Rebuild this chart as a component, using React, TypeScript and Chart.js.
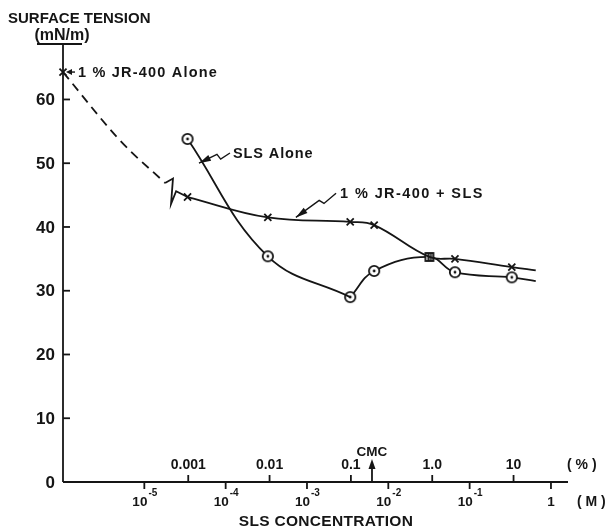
import React, { useEffect, useRef } from "react";
import { Chart, registerables } from "chart.js";

Chart.register(...registerables);

const INK = "#151515";
const FONT = "'Liberation Sans', 'DejaVu Sans', sans-serif";

// ---- Data (concentration in mol/L, surface tension in mN/m) ----
const jrAloneConc = [1e-6, 5.0e-6, 1.8e-5];
const jrAloneTension = [64.3, 53.6, 46.9];
const breakConc = [1.8e-5, 2.25e-5, 2.13e-5, 2.46e-5, 3.4e-5];
const breakTension = [46.9, 47.6, 43.6, 45.6, 44.7];
const slsConc = [3.4e-5, 3.3e-4, 3.4e-3, 6.7e-3, 3.2e-2, 6.6e-2, 0.33, 0.65];
const jrSlsTension = [44.7, 41.5, 40.8, 40.3, 35.3, 35.0, 33.7, 33.2];
const slsAloneTension = [53.8, 35.4, 29.0, 33.1, 35.3, 32.9, 32.1, 31.5];

// ---- Axis ticks ----
const yTickValues = [0, 10, 20, 30, 40, 50, 60];
const molarExponents = [-5, -4, -3, -2, -1, 0];
const percentLabels = ["0.001", "0.01", "0.1", "1.0", "10"];
const percentValues = [0.001, 0.01, 0.1, 1, 10];
const SLS_MW = 288.4;
const cmcConc = 6.3e-3;
const xMin = 1e-6;
const xMax = 1.62;
const yMin = 0;
const yMax = 68.7;

function seg(ctx: CanvasRenderingContext2D, x1: number, y1: number, x2: number, y2: number) {
  ctx.beginPath();
  ctx.moveTo(x1, y1);
  ctx.lineTo(x2, y2);
  ctx.stroke();
}

function txt(
  ctx: CanvasRenderingContext2D,
  s: string,
  x: number,
  y: number,
  size: number,
  align: CanvasTextAlign = "left",
  spacing = 0
) {
  ctx.font = `bold ${size}px ${FONT}`;
  ctx.textAlign = align;
  ctx.textBaseline = "middle";
  (ctx as any).letterSpacing = spacing + "px";
  ctx.fillText(s, x, y);
  (ctx as any).letterSpacing = "0px";
}

function arrowHead(ctx: CanvasRenderingContext2D, fx: number, fy: number, tx: number, ty: number, len = 9, w = 3.5) {
  const a = Math.atan2(ty - fy, tx - fx);
  const bx = tx - len * Math.cos(a);
  const by = ty - len * Math.sin(a);
  ctx.beginPath();
  ctx.moveTo(tx, ty);
  ctx.lineTo(bx + w * Math.sin(a), by - w * Math.cos(a));
  ctx.lineTo(bx - w * Math.sin(a), by + w * Math.cos(a));
  ctx.closePath();
  ctx.fill();
}

function wiggleArrow(ctx: CanvasRenderingContext2D, sx: number, sy: number, tx: number, ty: number) {
  const dx = tx - sx;
  const dy = ty - sy;
  const p1x = sx + dx * 0.3;
  const p1y = sy + dy * 0.3 + 3;
  const p2x = sx + dx * 0.42;
  const p2y = sy + dy * 0.42 - 3;
  ctx.beginPath();
  ctx.moveTo(sx, sy);
  ctx.lineTo(p1x, p1y);
  ctx.lineTo(p2x, p2y);
  ctx.lineTo(tx, ty);
  ctx.stroke();
  arrowHead(ctx, p2x, p2y, tx, ty, 12, 3.2);
}

function makeCircle(): HTMLCanvasElement {
  const c = document.createElement("canvas");
  c.width = 14;
  c.height = 14;
  const g = c.getContext("2d")!;
  g.fillStyle = "#fff";
  g.beginPath();
  g.arc(7, 7, 5.2, 0, Math.PI * 2);
  g.fill();
  g.lineWidth = 1.8;
  g.strokeStyle = INK;
  g.stroke();
  g.fillStyle = INK;
  g.beginPath();
  g.arc(7, 7, 1.4, 0, Math.PI * 2);
  g.fill();
  return c;
}

function makeSquare(): HTMLCanvasElement {
  const c = document.createElement("canvas");
  c.width = 12;
  c.height = 12;
  const g = c.getContext("2d")!;
  g.fillStyle = "#fff";
  g.fillRect(2, 2, 8, 8);
  g.lineWidth = 1.8;
  g.strokeStyle = INK;
  g.strokeRect(2, 2, 8, 8);
  g.beginPath();
  g.moveTo(5, 2);
  g.lineTo(5, 10);
  g.moveTo(7.5, 2);
  g.lineTo(7.5, 10);
  g.stroke();
  return c;
}

const paperPlugin = {
  id: "paperAxes",
  afterDatasetsDraw(chart: any) {
    const { ctx, chartArea } = chart;
    const xs = chart.scales.x;
    const ys = chart.scales.y;
    const L = chartArea.left;
    const R = chartArea.right;
    const B = ys.getPixelForValue(0);
    const T = ys.getPixelForValue(yMax);
    const px = (xv: number, yv: number) => ({ x: xs.getPixelForValue(xv), y: ys.getPixelForValue(yv) });

    ctx.save();
    ctx.strokeStyle = INK;
    ctx.fillStyle = INK;
    ctx.lineWidth = 1.8;

    // Y axis
    seg(ctx, L, T, L, B);
    seg(ctx, L - 26, T, L + 19, T);
    yTickValues.forEach((v) => {
      const y = ys.getPixelForValue(v);
      if (v > 0) seg(ctx, L, y, L + 7, y);
      txt(ctx, String(v), L - 8, y + 1, 17, "right");
    });
    txt(ctx, "SURFACE TENSION", L - 55, T - 25, 15);
    txt(ctx, "(mN/m)", L - 1, T - 8, 16, "center");

    // X axis
    seg(ctx, L, B, R, B);
    molarExponents.forEach((e) => {
      const x = xs.getPixelForValue(Math.pow(10, e));
      seg(ctx, x, B, x, B + 7);
      if (e === 0) {
        txt(ctx, "1", x, B + 20, 13.5, "center");
      } else {
        ctx.font = `bold 13.5px ${FONT}`;
        const w1 = ctx.measureText("10").width;
        const sup = "-" + Math.abs(e);
        ctx.font = `bold 10px ${FONT}`;
        const w2 = ctx.measureText(sup).width;
        const x0 = x - (w1 + w2) / 2;
        txt(ctx, "10", x0, B + 20, 13.5, "left");
        txt(ctx, sup, x0 + w1 + 1, B + 11, 10, "left");
      }
    });
    txt(ctx, "( M )", R + 9, B + 20, 14, "left");

    percentValues.forEach((p, i) => {
      const x = xs.getPixelForValue((p * 10) / SLS_MW);
      seg(ctx, x, B - 7, x, B);
      txt(ctx, percentLabels[i], x, B - 17, 14, "center");
    });
    txt(ctx, "( % )", R - 1, B - 17, 14, "left");

    // CMC arrow
    const cx = xs.getPixelForValue(cmcConc);
    seg(ctx, cx, B, cx, B - 14);
    arrowHead(ctx, cx, B, cx, B - 23, 10, 3.5);
    txt(ctx, "CMC", cx, B - 30, 13.5, "center");

    txt(ctx, "SLS CONCENTRATION", 326, B + 40, 15.5, "center", 0.3);

    // Annotation: 1% JR-400 Alone
    const p0 = px(jrAloneConc[0], jrAloneTension[0]);
    ctx.lineWidth = 1.4;
    seg(ctx, p0.x + 12, p0.y, p0.x + 7, p0.y);
    arrowHead(ctx, p0.x + 12, p0.y, p0.x + 3, p0.y, 6, 3);
    txt(ctx, "1 % JR-400 Alone", p0.x + 15, p0.y + 1, 14.5, "left", 1.2);

    // Annotation: SLS Alone
    const a1 = px(1.23e-4, 51.6);
    const t1 = px(4.7e-5, 50.0);
    txt(ctx, "SLS Alone", a1.x, a1.y + 1, 14.5, "left", 0.9);
    wiggleArrow(ctx, a1.x - 3, a1.y, t1.x, t1.y);

    // Annotation: 1% JR-400 + SLS
    const a2 = px(2.55e-3, 45.3);
    const t2 = px(7.3e-4, 41.5);
    txt(ctx, "1 % JR-400 + SLS", a2.x, a2.y + 1, 14.5, "left", 1.4);
    wiggleArrow(ctx, a2.x - 4, a2.y, t2.x, t2.y);

    ctx.restore();
  },
};

export default function App() {
  const ref = useRef<HTMLCanvasElement | null>(null);

  useEffect(() => {
    if (!ref.current) return;
    const circle = makeCircle();
    const square = makeSquare();
    const pts = (xsArr: number[], ysArr: number[]) => xsArr.map((x, i) => ({ x, y: ysArr[i] }));
    const line = {
      borderColor: INK,
      borderWidth: 1.8,
      pointBorderColor: INK,
      pointBorderWidth: 1.8,
      clip: false as const,
    };

    const chart = new Chart(ref.current, {
      type: "line",
      data: {
        datasets: [
          {
            ...line,
            label: "1% JR-400 Alone",
            data: pts(jrAloneConc, jrAloneTension),
            borderDash: [9, 6],
            tension: 0.35,
            pointStyle: "crossRot",
            pointRadius: [5, 0, 0],
          },
          {
            ...line,
            label: "break",
            data: pts(breakConc, breakTension),
            tension: 0,
            pointRadius: 0,
          },
          {
            ...line,
            label: "1% JR-400 + SLS",
            data: pts(slsConc, jrSlsTension),
            tension: 0.4,
            pointStyle: "crossRot",
            pointRadius: [5, 5, 5, 5, 0, 5, 5, 0],
          },
          {
            ...line,
            label: "SLS Alone (below CMC)",
            data: pts(slsConc.slice(0, 3), slsAloneTension.slice(0, 3)),
            tension: 0.4,
            pointStyle: circle,
            pointRadius: [5, 5, 0],
          },
          {
            ...line,
            label: "SLS Alone",
            data: pts(slsConc.slice(2), slsAloneTension.slice(2)),
            tension: 0.4,
            pointStyle: slsConc.slice(2).map((_, i) => (i === 2 ? square : circle)),
            pointRadius: [5, 5, 5, 5, 5, 0],
          },
        ],
      },
      options: {
        animation: false,
        responsive: true,
        maintainAspectRatio: false,
        layout: { padding: { left: 63, top: 44, right: 39, bottom: 47 } },
        plugins: { legend: { display: false }, tooltip: { enabled: false } },
        scales: {
          x: { type: "logarithmic", min: xMin, max: xMax, display: false },
          y: { type: "linear", min: yMin, max: yMax, display: false },
        },
      },
      plugins: [paperPlugin],
    });
    return () => chart.destroy();
  }, []);

  return (
    <div style={{ position: "fixed", left: 0, top: 0, width: 607, height: 529, background: "#fff" }}>
      <canvas ref={ref} />
    </div>
  );
}
